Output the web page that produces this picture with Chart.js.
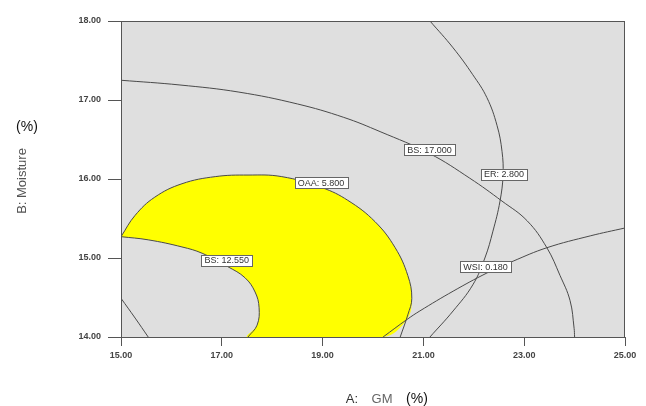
<!DOCTYPE html>
<html>
<head>
<meta charset="utf-8">
<script src="https://cdn.jsdelivr.net/npm/chart.js@4/dist/chart.umd.min.js"></script>
<style>
  html, body { margin: 0; background: #fff; }
</style>
</head>
<body>
<canvas id="overlay" width="646" height="406"></canvas>
<script>
// axis ticks
const gmTicks = [15, 17, 19, 21, 23, 25];
const moistureTicks = [14, 15, 16, 17, 18];

// contour levels and where their tags sit
const contourNames = ['BS', 'ER', 'OAA', 'BS', 'WSI'];
const contourLevels = [17.0, 2.8, 5.8, 12.55, 0.18];
const tagGM = [21.12, 22.6, 18.97, 17.10, 22.23];
const tagMoisture = [16.37, 16.06, 15.95, 14.97, 14.89];

// BS = 17.000
const bs17GM = [15, 16.17, 17.34, 18.5, 19.42, 20.14, 21.13, 21.92, 22.56, 23.06, 23.45, 23.71, 23.91, 23.99, 24.0];
const bs17Moist = [17.25, 17.19, 17.10, 16.95, 16.78, 16.60, 16.32, 16.01, 15.72, 15.47, 15.13, 14.78, 14.46, 14.11, 14.0];

// ER = 2.800
const erGM = [21.13, 21.59, 21.98, 22.26, 22.46, 22.56, 22.58, 22.52, 22.38, 22.22, 21.98, 21.59, 21.13];
const erMoist = [18.0, 17.66, 17.32, 17.03, 16.68, 16.35, 16.05, 15.72, 15.34, 15.0, 14.66, 14.33, 14.0];

// OAA = 5.800
const oaaGM = [15, 15.28, 15.67, 16.21, 16.87, 17.52, 18.19, 18.99, 19.50, 20.04, 20.44, 20.69, 20.77, 20.69, 20.54];
const oaaMoist = [15.27, 15.54, 15.77, 15.94, 16.03, 16.05, 16.03, 15.89, 15.73, 15.46, 15.13, 14.78, 14.49, 14.28, 14.0];

// BS = 12.550
const bs1255GM = [15, 15.54, 16.21, 16.61, 17.12, 17.46, 17.66, 17.74, 17.70, 17.52];
const bs1255Moist = [15.27, 15.23, 15.14, 15.06, 14.89, 14.75, 14.57, 14.37, 14.15, 14.0];

// second BS branch, lower left corner
const bsLowGM = [15, 15.28, 15.54];
const bsLowMoist = [14.49, 14.24, 14.0];

// WSI = 0.180
const wsiGM = [25, 24.31, 23.45, 22.78, 22.26, 21.59, 20.93, 20.67, 20.2];
const wsiMoist = [15.38, 15.28, 15.13, 14.96, 14.81, 14.58, 14.33, 14.22, 14.0];

const pts = (xs, ys) => xs.map((x, i) => ({ x, y: ys[i] }));

// feasible window: inside OAA, above WSI, outside BS 12.55
const windowPts = [
  ...pts(oaaGM, oaaMoist).slice(0, -2),
  ...pts(wsiGM, wsiMoist).slice(-2),
  ...pts(bs1255GM, bs1255Moist).reverse()
];

const lineColor = '#4a4a4a';
const font = 'Liberation Sans, Arial, sans-serif';

function contour(xs, ys) {
  return {
    type: 'line',
    data: pts(xs, ys),
    showLine: true,
    fill: false,
    borderColor: lineColor,
    borderWidth: 1,
    pointRadius: 0,
    tension: 0.4,
    order: 0
  };
}

const plotFrame = {
  id: 'plotFrame',
  beforeDraw(chart) {
    const { ctx, chartArea: a } = chart;
    ctx.save();
    ctx.fillStyle = '#dfdfdf';
    ctx.fillRect(a.left, a.top, a.right - a.left, a.bottom - a.top);
    ctx.restore();
  },
  afterDatasetsDraw(chart) {
    const { ctx, chartArea: a, scales } = chart;
    ctx.save();
    ctx.strokeStyle = '#555';
    ctx.lineWidth = 1;
    ctx.strokeRect(a.left + 0.5, a.top + 0.5, a.right - a.left - 1, a.bottom - a.top);

    // contour tags
    ctx.font = '9px ' + font;
    ctx.textAlign = 'center';
    ctx.textBaseline = 'middle';
    contourNames.forEach((name, i) => {
      const text = name + ': ' + contourLevels[i].toFixed(3);
      const cx = scales.x.getPixelForValue(tagGM[i]);
      const cy = scales.y.getPixelForValue(tagMoisture[i]);
      const w = Math.round(ctx.measureText(text).width + 6);
      const h = 11;
      const x0 = Math.round(cx - w / 2) + 0.5;
      const y0 = Math.round(cy - h / 2) + 0.5;
      ctx.fillStyle = '#fff';
      ctx.fillRect(x0, y0, w, h);
      ctx.strokeStyle = '#666';
      ctx.strokeRect(x0, y0, w, h);
      ctx.fillStyle = '#333';
      ctx.fillText(text, cx, cy + 0.5);
    });

    // axis titles
    ctx.save();
    ctx.translate(22, 181);
    ctx.rotate(-Math.PI / 2);
    ctx.font = '13px ' + font;
    ctx.fillStyle = '#555';
    ctx.fillText('B: Moisture', 0, 0);
    ctx.restore();
    ctx.font = '14px ' + font;
    ctx.fillStyle = '#111';
    ctx.fillText('(%)', 27, 127);

    ctx.font = '13px ' + font;
    ctx.fillStyle = '#333';
    ctx.fillText('A:', 352, 399);
    ctx.fillStyle = '#666';
    ctx.fillText('GM', 382, 399);
    ctx.font = '14px ' + font;
    ctx.fillStyle = '#111';
    ctx.fillText('(%)', 417, 399);
    ctx.restore();
  }
};

const tickFont = { family: font, size: 9, weight: 'bold' };

new Chart(document.getElementById('overlay'), {
  type: 'scatter',
  data: {
    datasets: [
      {
        type: 'line',
        data: windowPts,
        showLine: true,
        fill: 'shape',
        backgroundColor: '#ffff00',
        borderWidth: 0,
        borderColor: 'rgba(0,0,0,0)',
        pointRadius: 0,
        tension: 0.4,
        order: 10
      },
      contour(bs17GM, bs17Moist),
      contour(erGM, erMoist),
      contour(oaaGM, oaaMoist),
      contour(bs1255GM, bs1255Moist),
      contour(bsLowGM, bsLowMoist),
      contour(wsiGM, wsiMoist)
    ]
  },
  options: {
    responsive: false,
    devicePixelRatio: 1,
    animation: false,
    layout: { padding: { left: 0, top: 21, right: 21, bottom: 0 } },
    plugins: { legend: { display: false }, tooltip: { enabled: false } },
    scales: {
      x: {
        type: 'linear',
        min: 15,
        max: 25,
        afterBuildTicks: s => { s.ticks = gmTicks.map(v => ({ value: v })); },
        afterFit: s => { s.height = 69; },
        ticks: {
          callback: v => Number(v).toFixed(2),
          font: tickFont,
          color: '#444',
          padding: 4,
          maxRotation: 0
        },
        grid: { drawOnChartArea: false, drawTicks: true, tickLength: 9, color: '#555' },
        border: { display: true, color: '#555' }
      },
      y: {
        type: 'linear',
        min: 14,
        max: 18,
        afterBuildTicks: s => { s.ticks = moistureTicks.map(v => ({ value: v })); },
        afterFit: s => { s.width = 121; },
        ticks: {
          callback: v => Number(v).toFixed(2),
          font: tickFont,
          color: '#444',
          padding: 7
        },
        grid: { drawOnChartArea: false, drawTicks: true, tickLength: 13, color: '#555' },
        border: { display: true, color: '#555' }
      }
    }
  },
  plugins: [plotFrame]
});
</script>
</body>
</html>
